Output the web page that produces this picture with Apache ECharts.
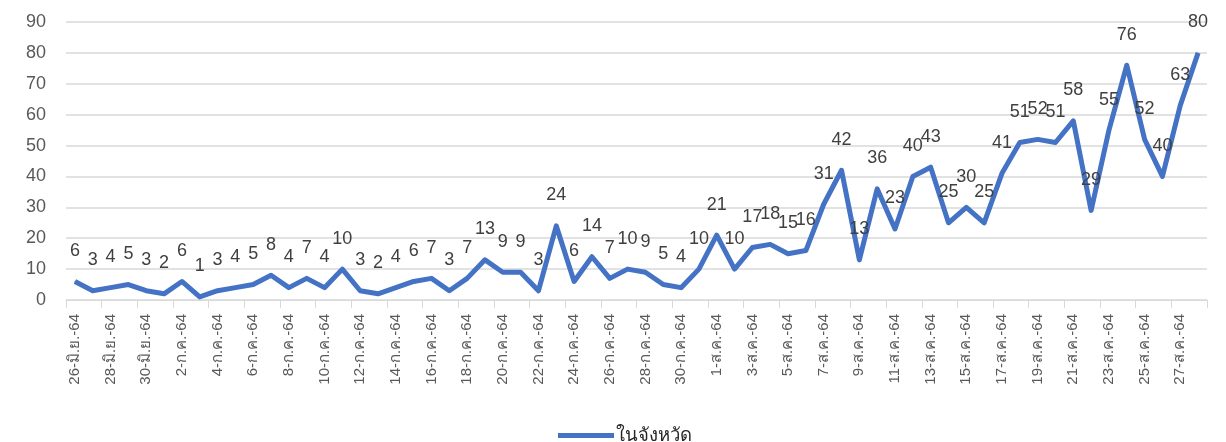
<!DOCTYPE html>
<html><head><meta charset="utf-8">
<script src="https://cdn.jsdelivr.net/npm/echarts@6/dist/echarts.min.js"></script>
<style>html,body{margin:0;padding:0;background:#fff}#c{width:1226px;height:442px}</style>
</head><body><div id="c"></div>
<script>
const categories = [
 '26-มิ.ย.-64','27-มิ.ย.-64','28-มิ.ย.-64','29-มิ.ย.-64','30-มิ.ย.-64',
 '1-ก.ค.-64','2-ก.ค.-64','3-ก.ค.-64','4-ก.ค.-64','5-ก.ค.-64','6-ก.ค.-64','7-ก.ค.-64','8-ก.ค.-64','9-ก.ค.-64','10-ก.ค.-64',
 '11-ก.ค.-64','12-ก.ค.-64','13-ก.ค.-64','14-ก.ค.-64','15-ก.ค.-64','16-ก.ค.-64','17-ก.ค.-64','18-ก.ค.-64','19-ก.ค.-64','20-ก.ค.-64',
 '21-ก.ค.-64','22-ก.ค.-64','23-ก.ค.-64','24-ก.ค.-64','25-ก.ค.-64','26-ก.ค.-64','27-ก.ค.-64','28-ก.ค.-64','29-ก.ค.-64','30-ก.ค.-64','31-ก.ค.-64',
 '1-ส.ค.-64','2-ส.ค.-64','3-ส.ค.-64','4-ส.ค.-64','5-ส.ค.-64','6-ส.ค.-64','7-ส.ค.-64','8-ส.ค.-64','9-ส.ค.-64','10-ส.ค.-64',
 '11-ส.ค.-64','12-ส.ค.-64','13-ส.ค.-64','14-ส.ค.-64','15-ส.ค.-64','16-ส.ค.-64','17-ส.ค.-64','18-ส.ค.-64','19-ส.ค.-64','20-ส.ค.-64',
 '21-ส.ค.-64','22-ส.ค.-64','23-ส.ค.-64','24-ส.ค.-64','25-ส.ค.-64','26-ส.ค.-64','27-ส.ค.-64','28-ส.ค.-64'
];
const seriesName = 'ในจังหวัด';
const values = [6,3,4,5,3,2,6,1,3,4,5,8,4,7,4,10,3,2,4,6,7,3,7,13,9,9,3,24,6,14,7,10,9,5,4,10,
 21,10,17,18,15,16,31,42,13,36,23,40,43,25,30,25,41,51,52,51,58,29,55,76,52,40,63,80];
const yTicks = {min:0, max:90, interval:10};

const chart = echarts.init(document.getElementById('c'), null, {renderer:'canvas'});
const font = '"Liberation Sans", Arial, "Noto Sans", sans-serif';
chart.setOption({
  animation:false,
  textStyle:{fontFamily:font},
  grid:{left:66, right:19, top:22, bottom:142, containLabel:false},
  legend:{top:421, left:553, icon:'rect', itemWidth:56, itemHeight:5, itemGap:4,
    data:[{name:seriesName, itemStyle:{color:'#4472C4'}}],
    textStyle:{fontSize:18.5, color:'#262626', fontFamily:font, padding:[0,0,0,-3]}},
  xAxis:{type:'category', data:categories, boundaryGap:true,
    axisLine:{lineStyle:{color:'#d9d9d9', width:1}},
    axisTick:{show:true, interval:1, length:8, lineStyle:{color:'#d9d9d9'}},
    axisLabel:{interval:1, rotate:90, fontSize:15, color:'#595959', margin:14, fontFamily:font}},
  yAxis:{type:'value', min:yTicks.min, max:yTicks.max, interval:yTicks.interval,
    axisLine:{show:false}, axisTick:{show:false},
    axisLabel:{fontSize:18, color:'#595959', margin:20, fontFamily:font},
    splitLine:{lineStyle:{color:'#d9d9d9', width:1.5}}},
  series:[{name:seriesName, type:'line', data:values, symbol:'circle', symbolSize:1,
    itemStyle:{color:'#4472C4'},
    lineStyle:{color:'#4472C4', width:5, join:'round'},
    label:{show:true, position:'top', distance:21, fontSize:18, color:'#404040', fontFamily:font}}]
});
</script></body></html>
